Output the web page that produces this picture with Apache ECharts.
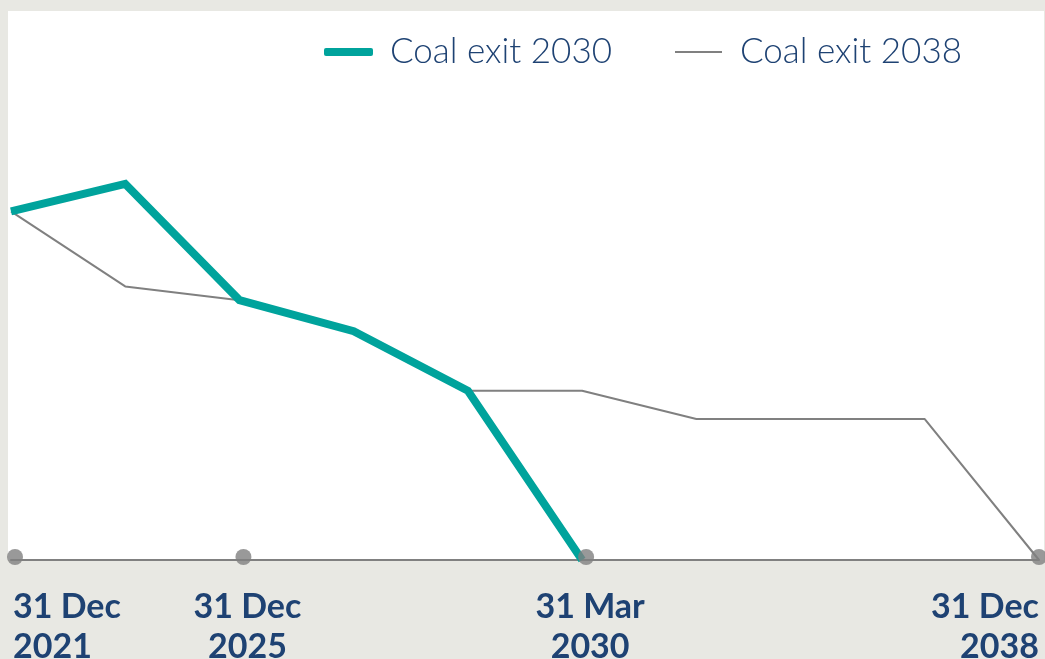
<!DOCTYPE html>
<html>
<head>
<meta charset="utf-8">
<style>
  html, body { margin: 0; padding: 0; background: #e8e8e3; }
  #chart { width: 1045px; height: 659px; }
</style>
<script src="https://cdn.jsdelivr.net/npm/echarts@6/dist/echarts.min.js"></script>
</head>
<body>
<div id="chart"></div>
<script>
// Milestones along the horizontal axis (blank entries are unlabelled steps)
const categories = ['31 Dec\n2021', '', '31 Dec\n2025', '', '', '31 Mar\n2030', '', '', '', '31 Dec\n2038'];

// Remaining coal capacity under each exit pathway
const exit2030 = [38.1, 41.1, 28.4, 25.0, 18.5, 0, null, null, null, null];
const exit2038 = [38.1, 29.9, 28.4, 25.0, 18.5, 18.5, 15.4, 15.4, 15.4, 0];

// Key dates marked on the axis
const milestoneIdx = [0, 2, 5, 9];

const NAVY = '#1e4273';
const TEAL = '#00a39c';
const GREY = '#808080';

const chart = echarts.init(document.getElementById('chart'), null, { renderer: 'canvas' });

const milestoneData = milestoneIdx.map((i, k) => ({
  value: [i, 0],
  symbolOffset: k === milestoneIdx.length - 1 ? [0, -3] : [4, -3]
}));

const legendText = {
  fontFamily: 'Lato', fontWeight: 300, fontSize: 35, color: NAVY, lineHeight: 40
};

chart.setOption({
  backgroundColor: '#e8e8e3',
  animation: false,
  graphic: [{
    type: 'rect',
    left: 8, top: 11,
    shape: { width: 1036, height: 549 },
    style: { fill: '#ffffff' },
    z: -10, silent: true
  }],
  legend: [{
    left: 324, top: 32, padding: 0,
    itemWidth: 49, itemHeight: 8,
    icon: 'roundRect',
    data: [{ name: 'Coal exit 2030', itemStyle: { color: TEAL } }],
    textStyle: Object.assign({ padding: [0, 0, 0, 12] }, legendText)
  }, {
    left: 675, top: 32, padding: 0,
    itemWidth: 47, itemHeight: 2,
    icon: 'rect',
    data: [{ name: 'Coal exit 2038', itemStyle: { color: GREY } }],
    textStyle: Object.assign({ padding: [0, 0, 0, 13] }, legendText)
  }],
  grid: { left: 11, right: 6, top: 11, bottom: 99, containLabel: false, outerBoundsMode: 'none' },
  xAxis: {
    type: 'category',
    data: categories,
    boundaryGap: false,
    axisLine: { show: true, lineStyle: { color: GREY, width: 2 } },
    axisTick: { show: false },
    splitLine: { show: false },
    axisLabel: {
      interval: 0,
      margin: 27,
      alignMinLabel: 'left',
      alignMaxLabel: 'right',
      fontFamily: 'Lato', fontWeight: 'bold', fontSize: 34, color: NAVY,
      lineHeight: 40,
      formatter: function (v, i) {
        if (!v) return '';
        const style = (i === 0 || i === categories.length - 1) ? 'e' : 'm';
        return v.split('\n').map(s => '{' + style + '|' + s + '}').join('\n');
      },
      rich: {
        e: { fontFamily: 'Lato', fontWeight: 'bold', fontSize: 34, color: NAVY, lineHeight: 40, padding: [0, 0, 0, 2] },
        m: { fontFamily: 'Lato', fontWeight: 'bold', fontSize: 34, color: NAVY, lineHeight: 40, padding: [0, 0, 0, 16] }
      }
    }
  },
  yAxis: {
    type: 'value', min: 0, max: 60, show: false,
    splitLine: { show: false }
  },
  series: [{
    name: 'Coal exit 2038',
    type: 'line',
    data: exit2038,
    symbol: 'none',
    lineStyle: { color: GREY, width: 2 },
    itemStyle: { color: GREY },
    z: 2
  }, {
    name: 'Coal exit 2030',
    type: 'line',
    data: exit2030,
    symbol: 'none',
    connectNulls: false,
    lineStyle: { color: TEAL, width: 8, join: 'miter' },
    itemStyle: { color: TEAL },
    z: 3
  }, {
    name: 'Milestones',
    type: 'scatter',
    data: milestoneData,
    symbol: 'circle',
    symbolSize: 16,
    itemStyle: { color: GREY },
    clip: false,
    z: 5
  }]
});
</script>
</body>
</html>
